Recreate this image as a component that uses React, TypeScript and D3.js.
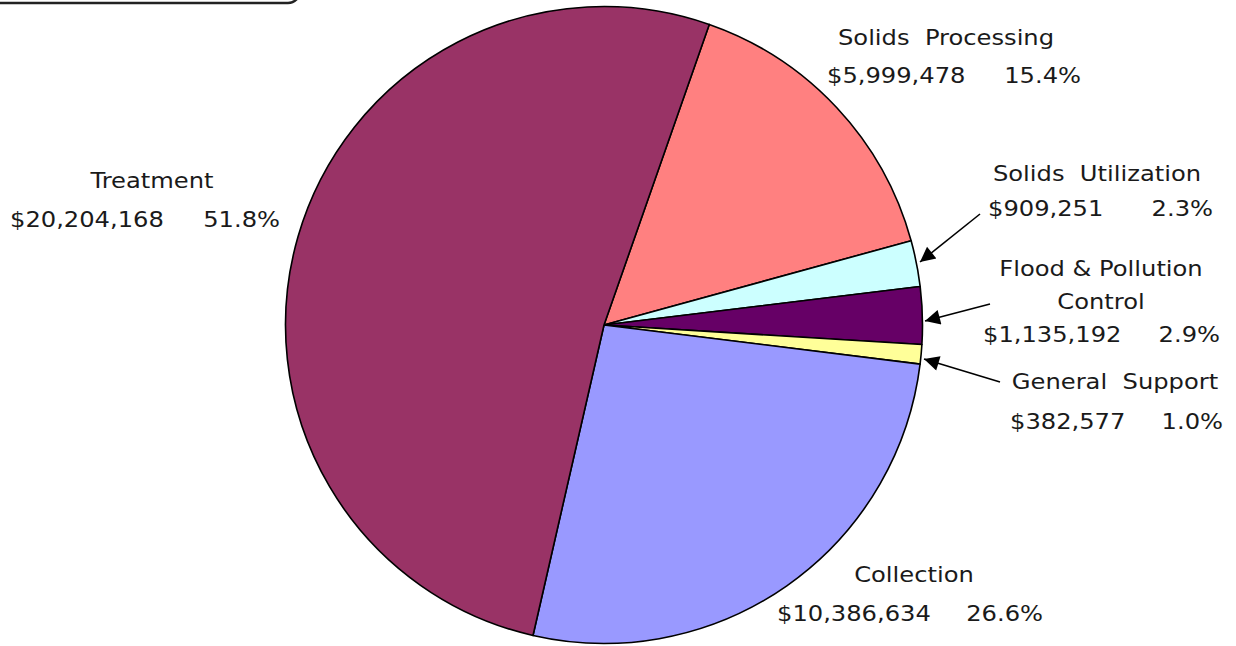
import React from "react";
import * as d3 from "d3";

const categories = ["Solids Processing", "Solids Utilization", "Flood & Pollution Control", "General Support", "Collection", "Treatment"];
const amounts = [5999478, 909251, 1135192, 382577, 10386634, 20204168];
const amountLabels = ["$5,999,478", "$909,251", "$1,135,192", "$382,577", "$10,386,634", "$20,204,168"];
const percentLabels = ["15.4%", "2.3%", "2.9%", "1.0%", "26.6%", "51.8%"];
const titleLines = [["Solids  Processing"], ["Solids  Utilization"], ["Flood & Pollution", "Control"], ["General  Support"], ["Collection"], ["Treatment"]];
const colors = ["#FF8080", "#CCFFFF", "#660066", "#FFFF99", "#9999FF", "#993366"];

// label layout (positions only)
const labelLayout = [
  { cx: 946, y0: 45, dy: 38, ampStart: 827, pctEnd: 1081 },
  { cx: 1097, y0: 181, dy: 35, ampStart: 988, pctEnd: 1213 },
  { cx: 1101, y0: 276, dy: 33, ampStart: 983, pctEnd: 1220 },
  { cx: 1115, y0: 389, dy: 40, ampStart: 1010, pctEnd: 1223 },
  { cx: 914, y0: 582, dy: 39, ampStart: 777, pctEnd: 1043 },
  { cx: 152, y0: 188, dy: 39, ampStart: 10, pctEnd: 280 },
];
const arrows: { idx: number; from: [number, number]; to: [number, number] }[] = [
  { idx: 1, from: [980, 214], to: [920, 262] },
  { idx: 2, from: [990, 304], to: [925, 321] },
  { idx: 3, from: [1000, 382], to: [924, 359] },
];

const W = 1236, H = 646;
const cx = 604, cy = 325, R = 318.5;
const startDeg = 19.3;

export default function App() {
  const pie = d3.pie<number>().sort(null).value((d) => d)
    .startAngle((startDeg * Math.PI) / 180)
    .endAngle((startDeg * Math.PI) / 180 + 2 * Math.PI);
  const arcs = pie(amounts);
  const arc = d3.arc<d3.PieArcDatum<number>>().innerRadius(0).outerRadius(R);
  const font = "DejaVu Sans, Verdana, sans-serif";
  const fs = 22;
  const sx = 1.1;
  const T = (x: number, y: number, s: string, anchor: string, key: string) => (
    <text key={key} transform={`translate(${x},${y}) scale(${sx},1)`} textAnchor={anchor} fontSize={fs} fontFamily={font} fill="#1a1a1a" style={{ whiteSpace: "pre" }}>{s}</text>
  );
  return (
    <svg width={W} height={H} style={{ position: "absolute", left: 0, top: 0, background: "#fff" }}>
      <defs>
        <marker id="ah" viewBox="0 0 10 10" refX="10" refY="5" markerWidth="20" markerHeight="15" markerUnits="userSpaceOnUse" orient="auto">
          <path d="M0,0 L10,5 L0,10 z" fill="#000" />
        </marker>
      </defs>
      <rect x={-30} y={-40} width={330} height={43} rx={12} ry={12} fill="#fff" stroke="#222" strokeWidth={2.4} />
      <g transform={`translate(${cx},${cy})`}>
        {arcs.map((a, i) => (
          <path key={i} d={arc(a) || ""} fill={colors[i]} stroke="#000" strokeWidth={1.6} strokeLinejoin="round" />
        ))}
      </g>
      {arrows.map((a, i) => (
        <line key={"a" + i} x1={a.from[0]} y1={a.from[1]} x2={a.to[0]} y2={a.to[1]} stroke="#000" strokeWidth={1.6} markerEnd="url(#ah)" />
      ))}
      {categories.map((c, i) => {
        const L = labelLayout[i];
        const lines = titleLines[i];
        const yAmt = L.y0 + L.dy * lines.length;
        return (
          <g key={c}>
            {lines.map((ln, j) => T(L.cx, L.y0 + L.dy * j, ln, "middle", "t" + j))}
            {T(L.ampStart, yAmt, amountLabels[i], "start", "amt")}
            {T(L.pctEnd, yAmt, percentLabels[i], "end", "pct")}
          </g>
        );
      })}
    </svg>
  );
}
